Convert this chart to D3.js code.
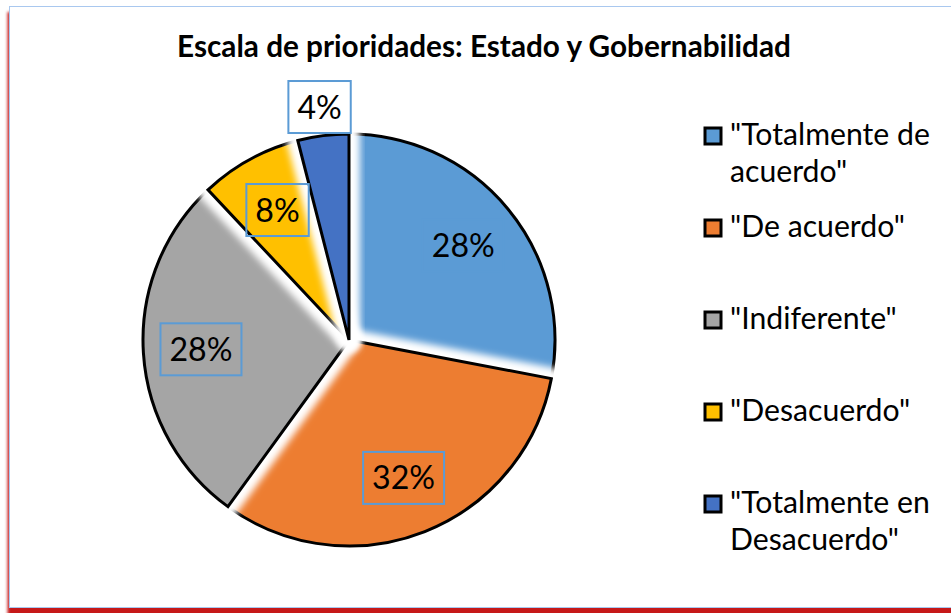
<!DOCTYPE html>
<html>
<head>
<meta charset="utf-8">
<script src="https://cdn.jsdelivr.net/npm/d3@7"></script>
<style>
  body { margin: 0; background: #fff; }
  svg { display: block; font-family: Lato, "Noto Sans", sans-serif; }
</style>
</head>
<body>
<svg id="chart" width="951" height="613"></svg>
<script>
// datos
var categorias = ['"Totalmente de\nacuerdo"', '"De acuerdo"', '"Indiferente"', '"Desacuerdo"', '"Totalmente en\nDesacuerdo"']
var valores = [28, 32, 28, 8, 4]
var colores = ["#5B9BD5", "#ED7D31", "#A5A5A5", "#FFC000", "#4472C4"]
var titulo = "Escala de prioridades: Estado y Gobernabilidad"

var W = 951, H = 613
var cx = 349, cy = 340, R = 206

var svg = d3.select("#chart")
var defs = svg.append("defs")

defs.append("filter").attr("id", "sombra")
    .attr("x", "-5%").attr("y", "-5%").attr("width", "110%").attr("height", "110%")
    .append("feGaussianBlur").attr("stdDeviation", 1.4)

defs.append("filter").attr("id", "brillo")
    .attr("x", "-30%").attr("y", "-30%").attr("width", "160%").attr("height", "160%")
    .append("feGaussianBlur").attr("stdDeviation", 3.5)

// marco del grafico con sombra roja
svg.append("rect")
    .attr("x", 7.5).attr("y", 12).attr("width", W + 20).attr("height", H)
    .attr("fill", "#C00000").attr("opacity", 0.9)
    .attr("filter", "url(#sombra)")
svg.append("rect")
    .attr("x", 9.5).attr("y", 6.5).attr("width", W + 20).attr("height", 601)
    .attr("fill", "#fff").attr("stroke", "#A9C8EF").attr("stroke-width", 1)

// ajusta el tamaño de letra para que el texto mida lo que en la imagen
function fitSize(txt, weight, target, base) {
    var t = svg.append("text").attr("font-size", base).attr("font-weight", weight).text(txt)
    var w = t.node().getComputedTextLength()
    t.remove()
    return base * target / w
}

// titulo
var tSize = fitSize(titulo, "bold", 614, 26)
svg.append("text")
    .attr("x", 484).attr("y", 57)
    .attr("text-anchor", "middle")
    .attr("font-weight", "bold")
    .attr("font-size", tSize)
    .attr("fill", "#000")
    .text(titulo)

// pastel
var pie = d3.pie().sort(null).value(d => d)
var arcos = pie(valores)
var arc = d3.arc().innerRadius(0).outerRadius(R)

var g = svg.append("g").attr("transform", "translate(" + cx + "," + cy + ")")

arcos.forEach(function(d, i) {
    // brillo blanco que tapa el borde de la porcion anterior
    g.append("path")
        .attr("d", arc(d))
        .attr("fill", "#fff")
        .attr("stroke", "#fff")
        .attr("stroke-width", 22)
        .attr("stroke-linejoin", "round")
        .attr("filter", "url(#brillo)")
    g.append("path")
        .attr("d", arc(d))
        .attr("fill", colores[i])
        .attr("stroke", "#000")
        .attr("stroke-width", 3)
        .attr("stroke-linejoin", "miter")
})

// etiquetas de datos
var lSize = fitSize("28%", "normal", 63, 30)
var arcIn = d3.arc().innerRadius(R * 0.72).outerRadius(R * 0.72)
var arcOut = d3.arc().innerRadius(R * 1.14).outerRadius(R * 1.14)

arcos.forEach(function(d, i) {
    var fuera = d.data < 5
    var p = fuera ? arcOut.centroid(d) : arcIn.centroid(d)
    var lab = g.append("g").attr("transform", "translate(" + p[0] + "," + p[1] + ")")
    var t = lab.append("text")
        .attr("text-anchor", "middle")
        .attr("dy", "0.36em")
        .attr("font-size", lSize)
        .attr("fill", "#000")
        .text(d.data + "%")
    var bw = t.node().getComputedTextLength() + 18
    var bh = 52
    lab.insert("rect", "text")
        .attr("x", -bw / 2).attr("y", -bh / 2)
        .attr("width", bw).attr("height", bh)
        .attr("fill", fuera ? "#fff" : "none")
        .attr("stroke", "#5B9BD5")
        .attr("stroke-width", 2)
})

// leyenda
var legSize = fitSize('"Totalmente de', "normal", 200, 28)
var yLeg = d3.scaleLinear().domain([0, categorias.length - 1]).range([145, 513])

var leg = svg.append("g")
categorias.forEach(function(c, i) {
    var y = yLeg(i)
    leg.append("rect")
        .attr("x", 705).attr("y", y - 17)
        .attr("width", 16).attr("height", 16)
        .attr("fill", colores[i])
        .attr("stroke", "#000")
        .attr("stroke-width", 3)
    var t = leg.append("text")
        .attr("x", 730).attr("y", y)
        .attr("font-size", legSize)
        .attr("fill", "#000")
    c.split("\n").forEach(function(linea, k) {
        t.append("tspan")
            .attr("x", 730)
            .attr("dy", k == 0 ? 0 : 37)
            .text(linea)
    })
})
</script>
</body>
</html>
